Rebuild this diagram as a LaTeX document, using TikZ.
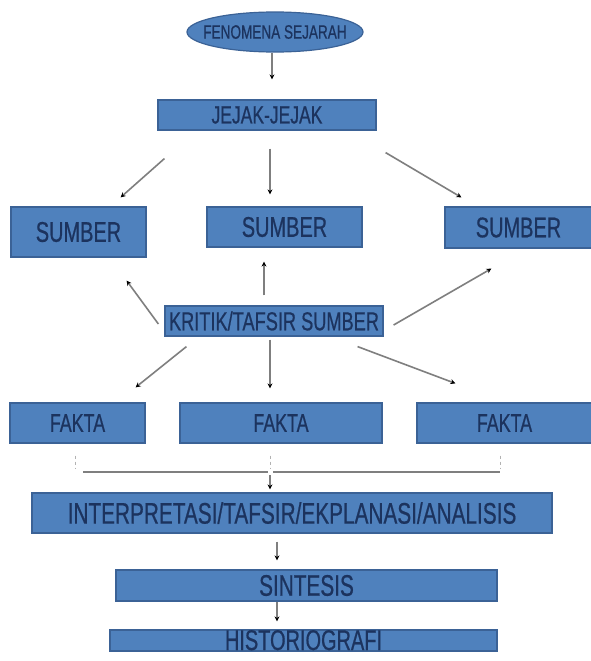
\documentclass[tikz,border=0pt]{standalone}
\usepackage{fontspec}
\setmainfont[FakeStretch=0.7,FakeBold=0.6]{Liberation Sans}
\usetikzlibrary{shapes.geometric,arrows.meta,calc}
\definecolor{boxfill}{HTML}{4F81BD}
\definecolor{boxline}{HTML}{3B6296}
\definecolor{txt}{HTML}{1C335E}
\definecolor{conn}{HTML}{7F7F7F}
\begin{document}
\begin{tikzpicture}[x=1pt,y=-1pt,
  box/.style 2 args={draw=boxline, line width=1.2pt, fill=boxfill, text=txt, inner sep=0pt, minimum width=#1, minimum height=#2},
  arr/.style={draw=conn, line width=1.6pt, -{Stealth[length=5pt,width=5pt,color=black]}},
  tick/.style={draw=conn!60, line width=0.8pt, dashed},
  hline/.style={draw=conn, line width=2pt},
  fs/.style={font=\fontsize{#1}{#1}\selectfont}]
\useasboundingbox (0,0) rectangle (590,661);
\fill[white] (0,0) rectangle (590,661);
% nodes
\node[ellipse, draw=boxline, line width=1.2pt, fill=boxfill, text=txt, inner sep=0pt, minimum width=176pt, minimum height=40pt, fs=19.4] (ell) at (275,32) {\makebox[0pt]{FENOMENA SEJARAH}};
\node[box={218pt}{30pt}, fs=25] (jejak) at (267,115) {JEJAK-JEJAK};
\node[box={135pt}{50pt}, fs=28.5] (s1) at (78.5,232) {SUMBER};
\node[box={155pt}{40pt}, fs=28.5] (s2) at (284.5,227) {SUMBER};
\node[box={147pt}{41pt}, fs=28.5] (s3) at (518.5,227.5) {SUMBER};
\node[box={218pt}{30pt}, fs=26] (krit) at (274,321) {KRITIK/TAFSIR SUMBER};
\node[box={135pt}{40pt}, fs=25.5] (f1) at (77.5,423) {FAKTA};
\node[box={202pt}{40pt}, fs=25.5] (f2) at (281,423) {FAKTA};
\node[box={175pt}{40pt}, fs=25.5] (f3) at (504.5,423) {FAKTA};
\node[box={520pt}{40pt}, fs=29.7] (interp) at (292,513) {INTERPRETASI/TAFSIR/EKPLANASI/ANALISIS};
\node[box={381pt}{31pt}, fs=29.7] (sint) at (306.5,585.5) {SINTESIS};
\node[box={387pt}{21pt}, fs=28.5, text height=20pt, text depth=1pt] (hist) at (303.5,640.5) {HISTORIOGRAFI};
% connectors
\draw[arr] ($(ell.south)+(-3,0)$) -- ($(jejak.north)+(5,-20)$);
\draw[arr] ($(jejak.south west)+(7,28)$) -- ($(s1.north east)+(-26,-9)$);
\draw[arr] ($(jejak.south)+(3,18)$) -- ($(s2.north)+(-14.5,-12)$);
\draw[arr] ($(jejak.south east)+(9,22)$) -- ($(s3.north west)+(17,-9)$);
\draw[arr] ($(krit.west)+(-6,3)$) -- ($(s1.south east)+(-20,23)$);
\draw[arr] ($(krit.north)+(-10,-10)$) -- ($(s2.south)+(-20.5,14)$);
\draw[arr] ($(krit.east)+(10,4)$) -- ($(s3.south west)+(47,20)$);
\draw[arr] ($(krit.south west)+(22,10)$) -- ($(f1.north east)+(-10,-15)$);
\draw[arr] ($(krit.south)+(-4,3)$) -- ($(f2.north)+(-11,-14)$);
\draw[arr] ($(krit.south east)+(-26,10)$) -- ($(f3.north west)+(39,-19)$);
\draw[tick] ($(f1.south)+(-2.5,12)$) -- ($(f1.south)+(-2.5,25)$);
\draw[tick] ($(f2.south)+(-11,12)$) -- ($(f2.south)+(-11,25)$);
\draw[tick] ($(f3.south)+(-4.5,12)$) -- ($(f3.south)+(-4.5,25)$);
\draw[hline] ($(interp.north)+(-209,-20)$) -- ($(interp.north)+(-24,-20)$);
\draw[hline] ($(interp.north)+(-19,-20)$) -- ($(interp.north)+(208,-20)$);
\draw[arr] ($(interp.north)+(-22,-17)$) -- ($(interp.north)+(-22,-3)$);
\draw[arr] ($(interp.south)+(-15,8)$) -- ($(sint.north)+(-29.5,-9)$);
\draw[arr] ($(sint.south)+(-29.5,0)$) -- ($(hist.north)+(-26.5,-8)$);
\end{tikzpicture}
\end{document}
